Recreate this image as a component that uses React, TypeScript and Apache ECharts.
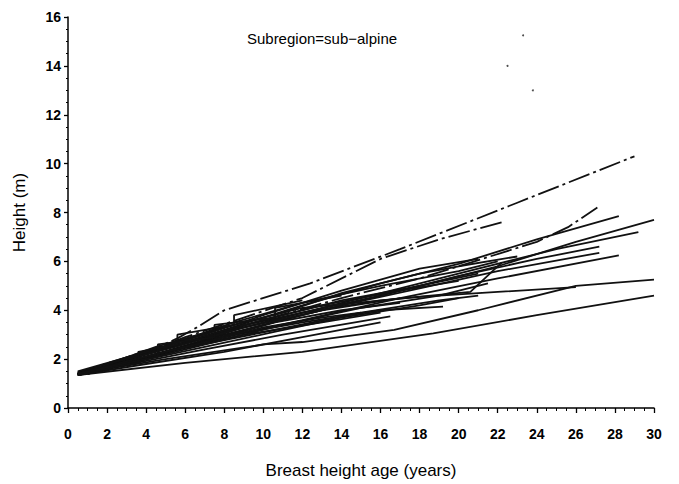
import React, { useEffect, useRef } from "react";
import * as echarts from "echarts";

// Height growth of individual trees: [breast height age (years), height (m)]
const tree01 = [[0.5, 1.45], [2.5, 1.95], [4.5, 2.45], [5.6, 2.85], [6.6, 3.3], [8, 4.0], [12.4, 5.1], [17, 6.5], [23, 8.4], [29, 10.3]];
const tree02 = [[0.5, 1.4], [3, 2.0], [6, 2.9], [9, 3.7], [12, 4.5], [16, 6.1], [19, 6.9], [22.2, 7.6]];
const tree03 = [[0.5, 1.45], [3, 2.0], [6, 2.7], [10, 3.6], [14, 4.5], [18, 5.3], [20, 5.8], [24, 6.8], [25.6, 7.4], [27.1, 8.2]];
const tree04 = [[1, 1.5], [4, 2.2], [8, 3.2], [12, 4.2], [16, 5.1], [20, 5.9], [24, 6.9], [28.2, 7.85]];
const tree05 = [[0.5, 1.35], [4, 2.1], [8, 3.0], [13, 4.0], [18, 5.0], [22, 5.8], [26, 6.8], [30, 7.7]];
const tree06 = [[1, 1.45], [5, 2.3], [9, 3.3], [13, 4.1], [17, 4.9], [21, 5.7], [25, 6.5], [29.2, 7.2]];
const tree07 = [[0.5, 1.4], [4.5, 2.3], [8.5, 3.3], [12, 3.9], [16, 4.6], [20, 5.4], [24, 6.1], [27.2, 6.6]];
const tree08 = [[1, 1.4], [5.5, 2.4], [10, 3.4], [14, 4.2], [18, 4.9], [22, 5.6], [27.2, 6.35]];
const tree09 = [[0.5, 1.35], [3.5, 1.9], [7.5, 2.8], [12, 3.6], [17, 4.5], [22, 5.3], [28.2, 6.25]];
const tree10 = [[0.5, 1.4], [5, 2.0], [10, 2.6], [12, 2.7], [16.7, 3.2], [21, 4.0], [26, 5.0], [30, 5.25]];
const tree11 = [[0.5, 1.35], [6, 1.85], [12, 2.3], [18.7, 3.05], [24, 3.8], [30, 4.6]];
const tree12 = [[0.5, 1.4], [4, 2.2], [8, 3.1], [12, 3.9], [16, 4.4], [20.6, 4.75], [22.2, 5.95]];
const tree13 = [[0.5, 1.5], [4, 2.3], [8, 3.3], [12, 4.1], [18, 4.55], [22, 4.75], [26, 4.95]];
const tree14 = [[1, 1.4], [4.5, 2.2], [8.5, 3.0], [12, 3.5], [16, 4.0], [19.2, 4.15]];
const tree15 = [[0.5, 1.4], [3.5, 1.85], [7, 2.4], [11, 3.0], [16.5, 3.75]];
const tree16 = [[0.5, 1.35], [4, 1.8], [8, 2.3], [12, 2.9], [16, 3.5]];
const tree17 = [[1, 1.5], [4.5, 2.4], [8.5, 3.5], [12, 4.3], [16, 5.0], [20, 5.6], [22, 6.0]];
const tree18 = [[0.5, 1.4], [3.5, 2.1], [6.6, 2.8], [10, 3.6], [14, 4.4], [18, 5.0], [21, 5.5]];
const tree19 = [[0.5, 1.45], [3, 2.0], [5.6, 2.6], [9, 3.4], [13, 4.2], [17, 4.8], [20, 5.2]];
const tree20 = [[1, 1.4], [4, 2.0], [7.5, 2.7], [11, 3.4], [15, 4.1], [19, 4.6], [21.5, 5.1]];
const tree21 = [[0.5, 1.4], [2.5, 1.9], [5.5, 2.5], [8.5, 3.2], [13, 4.0], [17, 4.5]];
const tree22 = [[0.5, 1.35], [3.5, 1.9], [7, 2.5], [10.5, 3.1], [14, 3.7], [18, 4.2], [20, 4.5]];
const tree23 = [[1, 1.5], [4.5, 2.5], [8, 3.3], [11, 3.9], [14, 4.7], [18, 5.5], [20, 5.8], [23, 6.2]];
const tree24 = [[0.5, 1.4], [3, 1.9], [6, 2.5], [9, 3.0], [13, 3.5], [16, 3.9]];
const tree25 = [[0.5, 1.4], [4, 2.3], [7, 3.0], [10, 3.8], [14, 4.8], [18, 5.7], [21, 6.1]];
const tree26 = [[1, 1.45], [5, 2.3], [10, 3.1], [15, 3.9], [19, 4.4], [21, 4.6]];
const tree27 = [[0.5, 1.4], [3.5, 2.0], [6.5, 2.6], [10.6, 3.5], [14, 4.0], [17, 4.3]];
const tree28 = [[0.5, 1.4], [4, 2.1], [7, 2.7], [10, 3.3], [13, 3.7], [15, 3.9]];
const tree29 = [[0.5, 1.35], [2.5, 1.7], [3.6, 1.85], [3.6, 2.3], [5.6, 2.6], [5.6, 3.0], [8.5, 3.4], [8.5, 3.8], [12, 4.4]];
const tree30 = [[0.5, 1.4], [2.5, 1.75], [4.6, 2.1], [4.6, 2.6], [6.6, 2.8], [7.5, 2.9], [7.5, 3.4], [10.6, 3.7], [10.6, 4.1], [14, 4.6]];

const trees = [
  tree01, tree02, tree03, tree04, tree05, tree06, tree07, tree08, tree09, tree10,
  tree11, tree12, tree13, tree14, tree15, tree16, tree17, tree18, tree19, tree20,
  tree21, tree22, tree23, tree24, tree25, tree26, tree27, tree28, tree29, tree30,
];

// trees drawn with a broken line
const dashedTrees = [0, 1, 2];

// stray single observations
const strayPoints = [[23.3, 15.25], [22.5, 14.0], [23.8, 13.0]];

const xTicks = { min: 0, max: 30, interval: 2 };
const yTicks = { min: 0, max: 16, interval: 2 };

const titleText = "Subregion=sub\u2212alpine";
const xName = "Breast height age (years)";
const yName = "Height (m)";

const FONT = "'Liberation Sans', Arial, sans-serif";

export default function App() {
  const ref = useRef<HTMLDivElement>(null);

  useEffect(() => {
    if (!ref.current) return;
    const chart = echarts.init(ref.current, undefined, { renderer: "svg" });

    const lineSeries = trees.map((t, i) => ({
      type: "line",
      data: t,
      showSymbol: false,
      symbol: "none",
      silent: true,
      lineStyle: {
        color: "#111",
        width: 1.8,
        type: dashedTrees.includes(i) ? [22, 4, 3, 4] : "solid",
      },
    }));

    chart.setOption({
      animation: false,
      backgroundColor: "#fff",
      title: {
        text: titleText,
        left: 317,
        top: 26,
        textAlign: "center",
        textStyle: { fontFamily: FONT, fontSize: 15, fontWeight: "normal", color: "#000" },
      },
      grid: { left: 68, width: 586, top: 17, bottom: 76 },
      xAxis: {
        type: "value",
        ...xTicks,
        offset: 4,
        name: xName,
        nameLocation: "middle",
        nameGap: 50,
        nameTextStyle: { fontFamily: FONT, fontSize: 17, color: "#000" },
        axisLine: { lineStyle: { color: "#000", width: 1.5 } },
        axisTick: { inside: false, length: 5, lineStyle: { color: "#000", width: 1.3 } },
        minorTick: { show: true, splitNumber: 4, length: 3, lineStyle: { color: "#000", width: 1 } },
        axisLabel: { fontFamily: FONT, fontSize: 14, fontWeight: "bold", color: "#000", margin: 15 },
        splitLine: { show: false },
      },
      yAxis: {
        type: "value",
        ...yTicks,
        name: yName,
        nameLocation: "middle",
        nameGap: 40,
        nameRotate: 90,
        nameTextStyle: { fontFamily: FONT, fontSize: 17, color: "#000" },
        axisLine: { show: true, lineStyle: { color: "#000", width: 1.5 } },
        axisTick: { show: true, inside: false, length: 4, lineStyle: { color: "#000", width: 1.3 } },
        minorTick: { show: true, splitNumber: 4, length: 2, lineStyle: { color: "#000", width: 1 } },
        axisLabel: { fontFamily: FONT, fontSize: 14, fontWeight: "bold", color: "#000", margin: 7 },
        splitLine: { show: false },
      },
      series: [
        ...lineSeries,
        {
          type: "scatter",
          data: strayPoints,
          symbol: "circle",
          symbolSize: 2,
          silent: true,
          itemStyle: { color: "#222" },
        },
      ],
    });

    return () => chart.dispose();
  }, []);

  return <div ref={ref} style={{ width: 679, height: 484, position: "absolute", left: 0, top: 0 }} />;
}
